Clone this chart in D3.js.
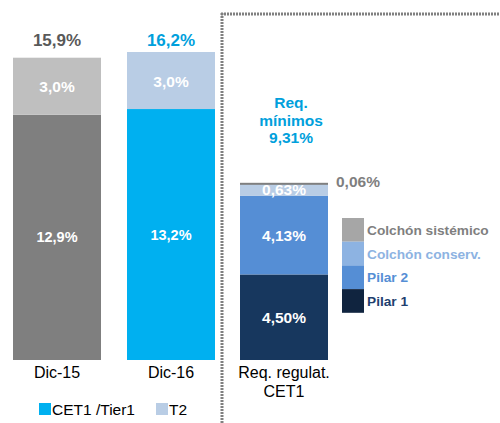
<!DOCTYPE html>
<html><head><meta charset="utf-8">
<script src="https://cdn.jsdelivr.net/npm/d3@7"></script>
<style>body{margin:0;background:#fff}svg{display:block;font-family:Arial,"Liberation Sans",sans-serif}</style>
</head><body><svg id="c" width="500" height="423"></svg>
<script>
const categories = ["Dic-15", "Dic-16"];
const cet1Values = [12.9, 13.2];
const t2Values = [3.0, 3.0];
const totalLabels = ["15,9%", "16,2%"];
const reqLayers = ["Pilar 1", "Pilar 2", "Colchón conserv.", "Colchón sistémico"];
const reqValues = [4.50, 4.13, 0.63, 0.06];
const reqLabels = ["4,50%", "4,13%", "0,63%", "0,06%"];
const reqCategory = "Req. regulat. CET1";
const reqTotalLabel = ["Req.", "mínimos", "9,31%"];

const svg = d3.select("#c");
const baseY = 360;
const y = d3.scaleLinear().domain([0, 16.2]).range([baseY, 52]);
const bw = 88;
const xs = {"Dic-15": 13, "Dic-16": 127};
xs[reqCategory] = 240;

const cetColors = ["#7f7f7f", "#00b0f0"];
const t2Colors = ["#bfbfbf", "#b9cde5"];
const totColors = ["#595959", "#00a0dc"];

categories.forEach((c, i) => {
  const x0 = xs[c];
  svg.append("rect").attr("x", x0).attr("width", bw).attr("y", y(cet1Values[i])).attr("height", baseY - y(cet1Values[i])).attr("fill", cetColors[i]);
  svg.append("rect").attr("x", x0).attr("width", bw).attr("y", y(cet1Values[i] + t2Values[i])).attr("height", y(cet1Values[i]) - y(cet1Values[i] + t2Values[i])).attr("fill", t2Colors[i]);
  svg.append("text").attr("x", x0 + bw / 2).attr("y", (y(cet1Values[i]) + baseY) / 2 + 5).attr("text-anchor", "middle").attr("fill", "#fff").attr("font-weight", "bold").attr("font-size", 14.5).text(cet1Values[i].toFixed(1).replace(".", ",") + "%");
  svg.append("text").attr("x", x0 + bw / 2).attr("y", (y(cet1Values[i]) + y(cet1Values[i] + t2Values[i])) / 2 + 6).attr("text-anchor", "middle").attr("fill", "#fff").attr("font-weight", "bold").attr("font-size", 15.5).text(t2Values[i].toFixed(1).replace(".", ",") + "%");
  svg.append("text").attr("x", x0 + bw / 2).attr("y", 46).attr("text-anchor", "middle").attr("fill", totColors[i]).attr("font-weight", "bold").attr("font-size", 17).text(totalLabels[i]);
  svg.append("text").attr("x", x0 + bw / 2).attr("y", 378).attr("text-anchor", "middle").attr("fill", "#000").attr("font-size", 16).text(c);
});

// Requirement stacked bar
const reqColors = ["#17375e", "#558ed5", "#b9cde5", "#7f7f7f"];
const legColors = ["#10243f", "#558ed5", "#8db3e2", "#a6a6a6"];
const legText = ["#1f3f6f", "#558ed5", "#8db3e2", "#7f7f7f"];
let cum = 0;
const rx = xs[reqCategory];
reqValues.forEach((v, i) => {
  const y0 = y(cum), y1 = y(cum + v);
  svg.append("rect").attr("x", rx).attr("width", bw).attr("y", y1).attr("height", Math.max(y0 - y1, 2)).attr("fill", reqColors[i]);
  if (i < 3) {
    svg.append("text").attr("x", rx + bw / 2).attr("y", (y0 + y1) / 2 + 5.5).attr("text-anchor", "middle").attr("fill", "#fff").attr("font-weight", "bold").attr("font-size", 15.5).text(reqLabels[i]);
  }
  cum += v;
});
svg.append("text").attr("x", 336).attr("y", 187).attr("fill", "#7f7f7f").attr("font-weight", "bold").attr("font-size", 15.5).text(reqLabels[3]);
reqTotalLabel.forEach((t, k) => {
  svg.append("text").attr("x", 291).attr("y", 108 + k * 17.5).attr("text-anchor", "middle").attr("fill", "#00a0dc").attr("font-weight", "bold").attr("font-size", 15.5).text(t);
});
svg.append("text").attr("x", rx + bw / 2).attr("y", 378).attr("text-anchor", "middle").attr("font-size", 16).text("Req. regulat.");
svg.append("text").attr("x", rx + bw / 2).attr("y", 397).attr("text-anchor", "middle").attr("font-size", 16).text("CET1");

// Right legend
const legOrder = [3, 2, 1, 0];
legOrder.forEach((li, k) => {
  const yy = 218 + k * 23.7;
  svg.append("rect").attr("x", 342).attr("y", yy).attr("width", 22).attr("height", 23.7).attr("fill", legColors[li]);
  svg.append("text").attr("x", 367).attr("y", yy + 17).attr("fill", legText[li]).attr("font-weight", "bold").attr("font-size", 13.7).text(reqLayers[li]);
});

// Bottom legend
const botLeg = [{t: "CET1 /Tier1", c: "#00b0f0", x: 39}, {t: "T2", c: "#b9cde5", x: 156}];
botLeg.forEach(d => {
  svg.append("rect").attr("x", d.x).attr("y", 403).attr("width", 12).attr("height", 12).attr("fill", d.c);
  svg.append("text").attr("x", d.x + 13).attr("y", 415).attr("font-size", 15.5).attr("fill", "#000").text(d.t);
});

// Dotted separators
svg.append("line").attr("x1", 222).attr("x2", 222).attr("y1", 13).attr("y2", 423).attr("stroke", "#808080").attr("stroke-width", 3).attr("stroke-dasharray", "2,1");
svg.append("line").attr("x1", 221).attr("x2", 500).attr("y1", 14).attr("y2", 14).attr("stroke", "#808080").attr("stroke-width", 3).attr("stroke-dasharray", "2,1");
</script></body></html>
